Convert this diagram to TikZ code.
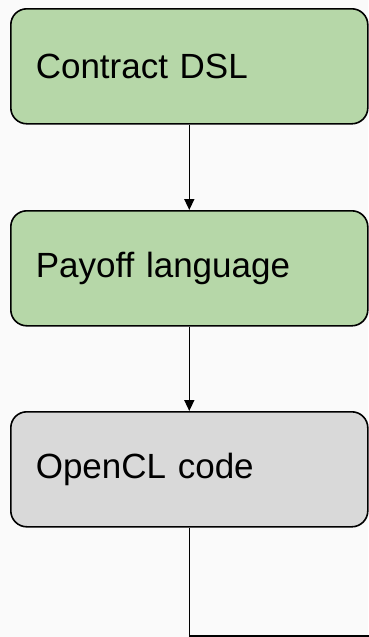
\documentclass[tikz,border=0pt]{standalone}
\usepackage{fontspec}
\setmainfont{Liberation Sans}
\usetikzlibrary{arrows.meta}
\definecolor{bgpaper}{HTML}{FAFAFA}
\definecolor{stagegreen}{HTML}{B6D7A8}
\definecolor{stagegray}{HTML}{D9D9D9}
\tikzset{
  stagebox/.style={draw=black, line width=1.6pt, rounded corners=16pt,
    minimum width=357pt, minimum height=115pt, text width=307pt,
    inner xsep=25pt, align=left, anchor=north west,
    font=\fontsize{35pt}{40pt}\selectfont},
  flow/.style={draw=black, line width=1.5pt},
  flowarrow/.style={flow, -{Triangle[length=11pt,width=10pt]}}
}
\begin{document}
\begin{tikzpicture}[x=1pt, y=-1pt]
  \useasboundingbox (0,0) rectangle (368,637);
  \fill[bgpaper] (0,0) rectangle (368,637);
  % pipeline stages
  \node[stagebox, fill=stagegreen] (dsl)    at (10,8)   {Contract DSL};
  \node[stagebox, fill=stagegreen] (payoff) at (10,210) {Payoff language};
  \node[stagebox, fill=stagegray]  (ocl)    at (10,411) {OpenCL code};
  \coordinate (out) at (370,636);
  % connectors
  \draw[flowarrow] (dsl) -- (payoff);
  \draw[flowarrow] (payoff) -- (ocl);
  \draw[flow] (ocl.south) |- (out);
\end{tikzpicture}
\end{document}
